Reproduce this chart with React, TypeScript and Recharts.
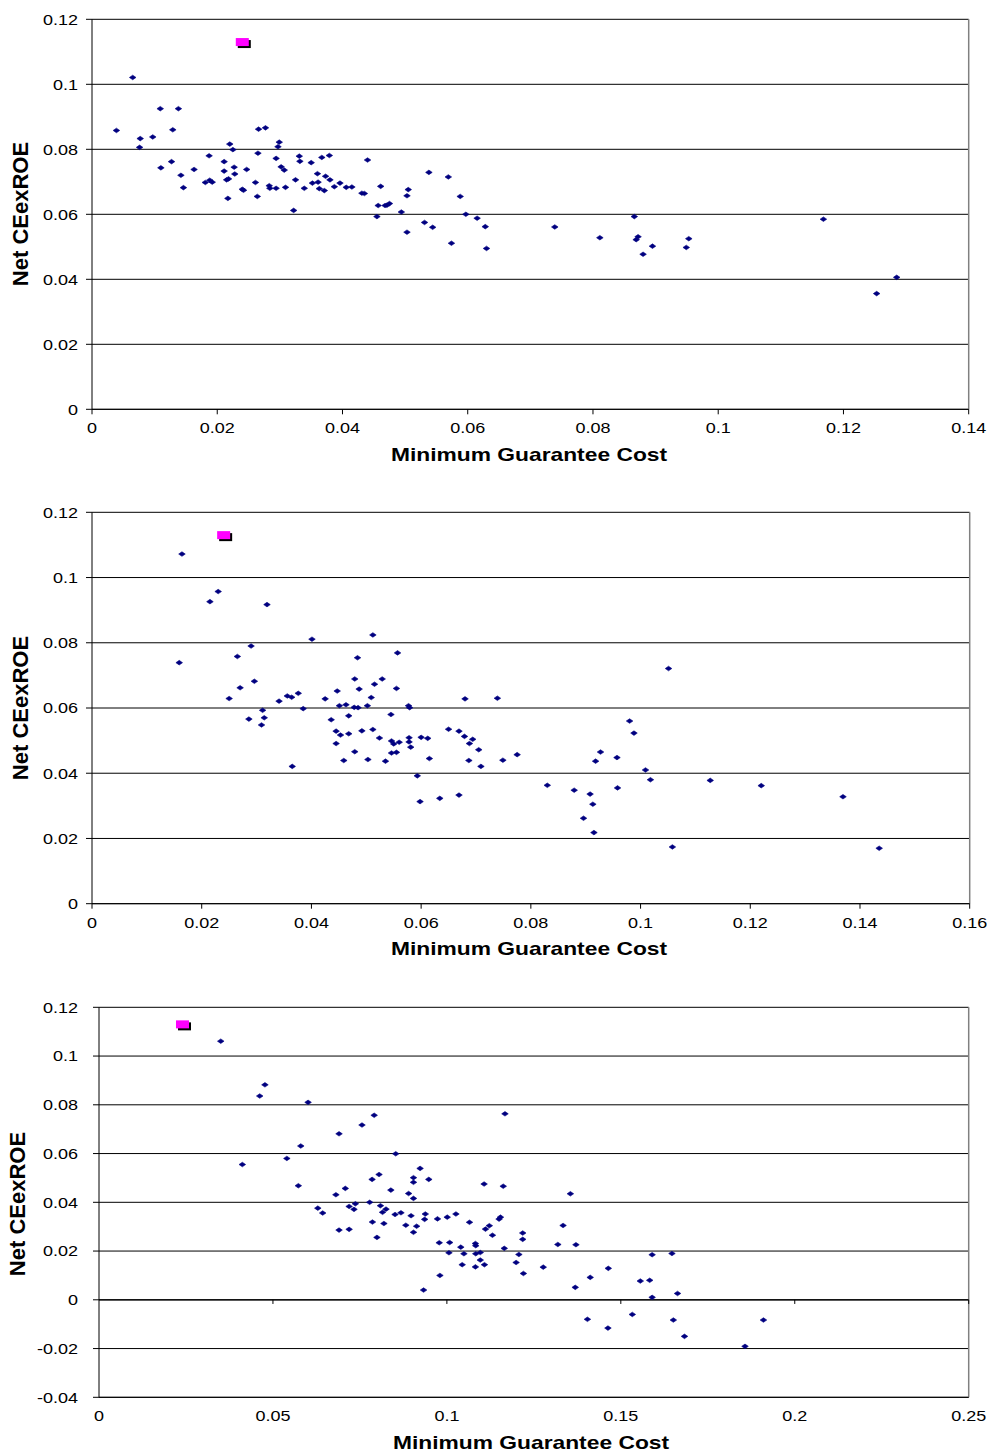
import React from 'react';
import { ScatterChart, Scatter, XAxis, YAxis, CartesianGrid, ReferenceLine } from 'recharts';

// chart 1
const cost1 = [0.0039,0.0065,0.0077,0.0076,0.0097,0.0109,0.0138,0.0129,0.011,0.0127,0.0142,0.0146,0.0163,0.0187,0.0181,0.0188,0.0192,0.0211,0.0211,0.0215,0.0218,0.0217,0.022,0.0225,0.0227,0.0228,0.024,0.0242,0.0247,0.0261,0.0264,0.0265,0.0266,0.0277,0.0283,0.0284,0.0294,0.0294,0.0297,0.0299,0.0302,0.0307,0.0309,0.0322,0.0325,0.0331,0.0332,0.0339,0.035,0.0352,0.036,0.0361,0.0363,0.0367,0.0371,0.0373,0.0379,0.038,0.0387,0.0396,0.0406,0.0415,0.0431,0.0435,0.044,0.0455,0.0457,0.0461,0.0468,0.0471,0.0475,0.0494,0.0503,0.0505,0.0503,0.0538,0.0531,0.0544,0.0569,0.0574,0.0588,0.0597,0.0615,0.0628,0.063,0.0739,0.0811,0.0866,0.0869,0.0872,0.088,0.0895,0.0949,0.0953,0.1168,0.1253,0.1285];
const roe1 = [0.0858,0.1021,0.0833,0.0806,0.0838,0.0925,0.0925,0.086,0.0743,0.0762,0.072,0.0682,0.0738,0.078,0.0698,0.0705,0.0699,0.0762,0.0733,0.0706,0.0709,0.0649,0.0816,0.0799,0.0745,0.0724,0.0677,0.0674,0.0738,0.0698,0.0655,0.0788,0.0862,0.0866,0.0688,0.068,0.068,0.0772,0.0808,0.0822,0.0746,0.0736,0.0683,0.0612,0.0706,0.0779,0.0763,0.068,0.0759,0.0696,0.0725,0.0699,0.0679,0.0775,0.0673,0.0717,0.0781,0.0706,0.0685,0.0696,0.0683,0.0684,0.0665,0.0664,0.0767,0.0593,0.0627,0.0686,0.0627,0.0628,0.0633,0.0607,0.0657,0.0676,0.0545,0.0729,0.0575,0.056,0.0715,0.0511,0.0655,0.06,0.0588,0.0562,0.0495,0.0561,0.0528,0.0593,0.0522,0.0531,0.0477,0.0502,0.0498,0.0525,0.0585,0.0356,0.0406];

// chart 2
const cost2 = [0.0164,0.0159,0.0215,0.023,0.025,0.0265,0.027,0.029,0.0296,0.0319,0.0311,0.0341,0.0356,0.0364,0.0376,0.0385,0.0401,0.0425,0.0447,0.0451,0.0463,0.0479,0.0484,0.0487,0.0478,0.0485,0.0502,0.0509,0.0512,0.0515,0.0529,0.0545,0.0555,0.0557,0.0577,0.0579,0.068,0.0739,0.1051,0.0286,0.0309,0.0314,0.0365,0.0436,0.0445,0.0445,0.0453,0.0459,0.0468,0.0468,0.0479,0.0492,0.0503,0.0512,0.0524,0.0535,0.0546,0.055,0.0546,0.0555,0.056,0.0578,0.0578,0.0581,0.0593,0.0598,0.06,0.0612,0.0615,0.0634,0.065,0.0669,0.0669,0.0679,0.0688,0.0694,0.0687,0.0705,0.0709,0.0749,0.0775,0.083,0.0879,0.0908,0.0913,0.0896,0.0915,0.0918,0.0927,0.0957,0.0958,0.098,0.0988,0.1009,0.1018,0.1058,0.1127,0.122,0.1369,0.1435];
const roe2 = [0.1072,0.0739,0.0926,0.0957,0.0629,0.0758,0.0662,0.079,0.0682,0.0917,0.0593,0.0621,0.0637,0.0633,0.0645,0.0598,0.0811,0.0628,0.0652,0.0607,0.061,0.0689,0.0754,0.0658,0.0602,0.0601,0.0607,0.0632,0.0824,0.0673,0.0689,0.058,0.066,0.0769,0.0607,0.0601,0.0628,0.063,0.0721,0.0566,0.0548,0.057,0.0421,0.0564,0.0529,0.0491,0.0517,0.0439,0.0576,0.0521,0.0466,0.053,0.0442,0.0534,0.0508,0.0437,0.0499,0.049,0.0462,0.0464,0.0495,0.0509,0.0496,0.048,0.0392,0.0313,0.051,0.0507,0.0445,0.0323,0.0535,0.0333,0.0529,0.0513,0.0491,0.0504,0.0439,0.0472,0.0421,0.044,0.0457,0.0363,0.0348,0.0336,0.0305,0.0262,0.0218,0.0437,0.0465,0.0448,0.0355,0.056,0.0523,0.041,0.038,0.0174,0.0378,0.0362,0.0328,0.017];

// chart 3
const cost3 = [0.035,0.0412,0.0462,0.0477,0.054,0.0573,0.058,0.0601,0.0629,0.0643,0.0681,0.069,0.0708,0.0719,0.0733,0.0737,0.0756,0.0778,0.0785,0.0791,0.0805,0.0809,0.0815,0.0825,0.0839,0.0853,0.0851,0.0868,0.089,0.0897,0.0904,0.0904,0.0904,0.0923,0.0938,0.0948,0.0973,0.1001,0.1026,0.1107,0.1167,0.1162,0.1355,0.069,0.0719,0.0786,0.0799,0.0819,0.0882,0.0904,0.0913,0.0933,0.0936,0.0978,0.098,0.1006,0.1008,0.104,0.1044,0.1049,0.1065,0.1082,0.1083,0.1083,0.1082,0.1096,0.1096,0.1108,0.1111,0.1122,0.1131,0.115,0.1154,0.1165,0.1199,0.1207,0.1218,0.1218,0.122,0.1277,0.1319,0.1334,0.1371,0.1369,0.1412,0.1404,0.1464,0.1463,0.1533,0.1556,0.1583,0.159,0.159,0.1647,0.1651,0.1663,0.1683,0.1857,0.191];
const roe3 = [0.1061,0.0555,0.0836,0.0882,0.058,0.0468,0.0631,0.081,0.0376,0.0356,0.0431,0.0681,0.0457,0.0383,0.0371,0.0394,0.0717,0.04,0.0494,0.0757,0.0514,0.0386,0.0359,0.0372,0.045,0.0599,0.035,0.0357,0.0436,0.0345,0.0416,0.0501,0.0482,0.0539,0.0352,0.0494,0.0332,0.0339,0.0352,0.0475,0.0763,0.0466,0.0435,0.0286,0.0289,0.0319,0.0256,0.0313,0.0306,0.0277,0.0302,0.004,0.033,0.0234,0.01,0.0193,0.0235,0.0216,0.0144,0.0189,0.0318,0.0231,0.0222,0.0189,0.0135,0.0194,0.0163,0.0144,0.029,0.0304,0.0265,0.0331,0.0339,0.0211,0.0153,0.0186,0.0274,0.0248,0.0108,0.0134,0.0227,0.0305,0.0226,0.0051,0.0092,-0.008,0.0129,-0.0116,-0.006,0.0077,0.008,0.0185,0.001,0.019,-0.0083,0.0026,-0.015,-0.0191,-0.0083];

// the highlighted point, same in all three panels
const targetCost = [0.024];
const targetRoe = [0.113];

const xTicks1 = [0, 0.02, 0.04, 0.06, 0.08, 0.1, 0.12, 0.14];
const xTicks2 = [0, 0.02, 0.04, 0.06, 0.08, 0.1, 0.12, 0.14, 0.16];
const xTicks3 = [0, 0.05, 0.1, 0.15, 0.2, 0.25];
const yTicks12 = [0, 0.02, 0.04, 0.06, 0.08, 0.1, 0.12];
const yTicks3 = [-0.04, -0.02, 0, 0.02, 0.04, 0.06, 0.08, 0.1, 0.12];

const toPoints = (xs: number[], ys: number[]) => xs.map((x, i) => ({ x, y: ys[i] }));
const target = toPoints(targetCost, targetRoe);

const FONT = '"Liberation Sans", Arial, sans-serif';

const XTick = (p: any) => (
  <g transform={`translate(${p.x},${p.y})`}>
    <text transform="scale(1.2,1)" textAnchor="middle" dy="0.71em" fontSize={15} fontFamily={FONT} fill="#000">
      {String(p.payload.value)}
    </text>
  </g>
);

const YTick = (p: any) => (
  <g transform={`translate(${p.x},${p.y})`}>
    <text transform="scale(1.2,1)" textAnchor="end" dy="0.355em" fontSize={15} fontFamily={FONT} fill="#000">
      {String(p.payload.value)}
    </text>
  </g>
);

const Diamond = (p: any) => {
  const { cx, cy } = p;
  return (
    <path
      d={`M${cx - 3.3},${cy}L${cx},${cy - 2.3}L${cx + 3.3},${cy}L${cx},${cy + 2.3}Z`}
      fill="#000080"
      stroke="#000080"
      strokeWidth={0.6}
    />
  );
};

const PinkSquare = (p: any) => {
  const { cx, cy } = p;
  return (
    <g>
      <rect x={cx - 4.5} y={cy - 2} width={13} height={8} fill="#000" />
      <rect x={cx - 6.5} y={cy - 4} width={13} height={8} fill="#ff00ff" />
    </g>
  );
};

function Panel(props: {
  top: number; height: number; margin: any; yWidth: number; tickMargin: number; yTickMargin: number;
  xTicks: number[]; yTicks: number[]; data: { x: number; y: number }[]; zeroLine?: boolean;
}) {
  const { top, height, margin, yWidth, xTicks, yTicks, data, zeroLine } = props;
  const xMax = xTicks[xTicks.length - 1];
  return (
    <div style={{ position: 'absolute', left: 0, top }}>
      <ScatterChart width={987} height={height} margin={margin}>
        <CartesianGrid vertical={false} stroke="#000" strokeWidth={1} />
        <XAxis
          type="number"
          dataKey="x"
          domain={[xTicks[0], xMax]}
          ticks={xTicks}
          interval={0}
          height={30}
          axisLine={{ stroke: '#000' }}
          tickLine={zeroLine ? false : { stroke: '#000' }}
          tickSize={5}
          tickMargin={props.tickMargin}
          tick={<XTick />}
        />
        <YAxis
          type="number"
          dataKey="y"
          domain={[yTicks[0], yTicks[yTicks.length - 1]]}
          ticks={yTicks}
          interval={0}
          width={yWidth}
          axisLine={{ stroke: '#000' }}
          tickLine={{ stroke: '#000' }}
          tickSize={6}
          tickMargin={props.yTickMargin}
          tick={<YTick />}
        />
        <ReferenceLine x={xMax} stroke="#808080" strokeWidth={1.5} />
        {zeroLine && <ReferenceLine y={0} stroke="#000" strokeWidth={1.2} />}
        {zeroLine &&
          xTicks.slice(1).map((t) => (
            <ReferenceLine key={t} segment={[{ x: t, y: 0 }, { x: t, y: -0.0017 }]} stroke="#000" />
          ))}
        <Scatter data={data} shape={<Diamond />} isAnimationActive={false} />
        <Scatter data={target} shape={<PinkSquare />} isAnimationActive={false} />
      </ScatterChart>
    </div>
  );
}

const xTitle: React.CSSProperties = {
  position: 'absolute',
  fontFamily: FONT,
  fontWeight: 'bold',
  fontSize: 19,
  lineHeight: 1,
  whiteSpace: 'nowrap',
  color: '#000',
};

const yTitle: React.CSSProperties = {
  position: 'absolute',
  fontFamily: FONT,
  fontWeight: 'bold',
  fontSize: 22,
  lineHeight: 1,
  whiteSpace: 'nowrap',
  color: '#000',
};

function XLabel({ x, y }: { x: number; y: number }) {
  return (
    <div style={{ ...xTitle, left: x, top: y, transform: 'translate(-50%,-50%) scaleX(1.2)' }}>
      Minimum Guarantee Cost
    </div>
  );
}

function YLabel({ x, y }: { x: number; y: number }) {
  return (
    <div style={{ ...yTitle, left: x, top: y, transform: 'translate(-50%,-50%) rotate(-90deg)' }}>
      Net CEexROE
    </div>
  );
}

export default function App() {
  return (
    <div style={{ position: 'absolute', left: 0, top: 0, width: 987, height: 1455, background: '#fff' }}>
      <Panel
        top={0}
        height={480}
        margin={{ top: 19.3, right: 18.3, bottom: 40.7, left: 10 }}
        yWidth={82}
        tickMargin={8}
        yTickMargin={8}
        xTicks={xTicks1}
        yTicks={yTicks12}
        data={toPoints(cost1, roe1)}
      />
      <Panel
        top={490}
        height={480}
        margin={{ top: 22.3, right: 17.3, bottom: 36.3, left: 10 }}
        yWidth={82}
        tickMargin={9}
        yTickMargin={8}
        xTicks={xTicks2}
        yTicks={yTicks12}
        data={toPoints(cost2, roe2)}
      />
      <Panel
        top={985}
        height={470}
        margin={{ top: 22.3, right: 18.3, bottom: 27.7, left: 10 }}
        yWidth={89}
        tickMargin={8}
        yTickMargin={15}
        xTicks={xTicks3}
        yTicks={yTicks3}
        data={toPoints(cost3, roe3)}
        zeroLine
      />
      <YLabel x={21} y={214} />
      <XLabel x={529} y={454} />
      <YLabel x={21} y={708} />
      <XLabel x={529} y={948} />
      <YLabel x={18} y={1204} />
      <XLabel x={531} y={1442} />
    </div>
  );
}
